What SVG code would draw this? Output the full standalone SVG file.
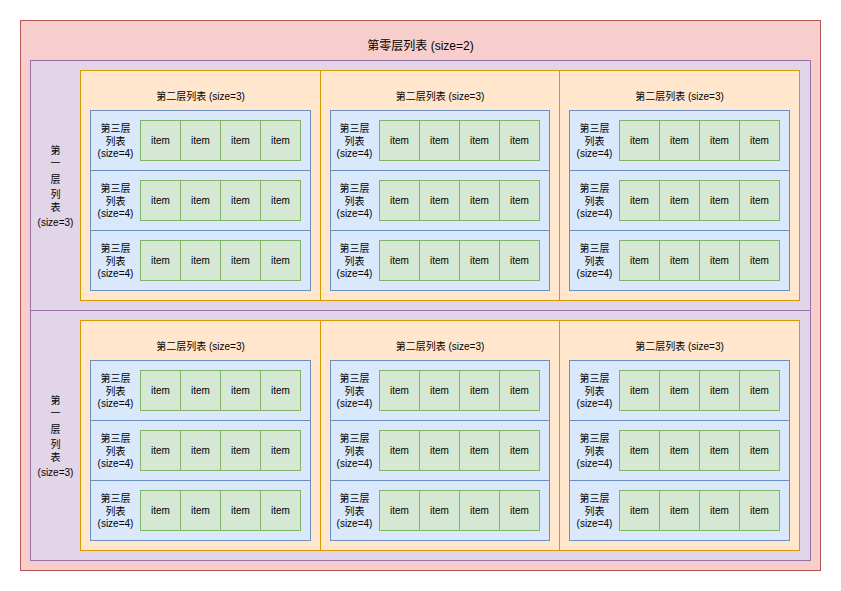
<svg xmlns="http://www.w3.org/2000/svg" width="841" height="591" viewBox="0 0 841 591">
<style>
text{font-family:"Liberation Sans","Noto Sans CJK SC",sans-serif;font-size:10px;fill:#000;text-anchor:middle}
.big{font-size:12px}
.l0{fill:#f8cecc;stroke:#b85450}
.l1{fill:#e1d5e7;stroke:#9673a6}
.l2{fill:#ffe6cc;stroke:#d79b00}
.l3{fill:#dae8fc;stroke:#6c8ebf}
.it{fill:#d5e8d4;stroke:#82b366}
</style>
<defs>
<g id="items">
<rect class="it" x="50" y="10" width="40" height="40"/><text x="70" y="33.5">item</text>
<rect class="it" x="90" y="10" width="40" height="40"/><text x="110" y="33.5">item</text>
<rect class="it" x="130" y="10" width="40" height="40"/><text x="150" y="33.5">item</text>
<rect class="it" x="170" y="10" width="40" height="40"/><text x="190" y="33.5">item</text>
</g>
<g id="l3body">
<rect class="l3" width="220" height="60"/>
<text><tspan x="25" y="21.5">第三层</tspan><tspan x="25" y="34.5">列表</tspan><tspan x="25" y="46.5">(size=4)</tspan></text>
</g>
<g id="items2">
<rect class="it" x="49" y="10" width="40" height="40"/><text x="69" y="33.5">item</text>
<rect class="it" x="89" y="10" width="40" height="40"/><text x="109" y="33.5">item</text>
<rect class="it" x="129" y="10" width="40" height="40"/><text x="149" y="33.5">item</text>
<rect class="it" x="169" y="10" width="40" height="40"/><text x="189" y="33.5">item</text>
</g>
<g id="l3body2">
<rect class="l3" width="219" height="60"/>
<text><tspan x="24" y="21.5">第三层</tspan><tspan x="24" y="34.5">列表</tspan><tspan x="24" y="46.5">(size=4)</tspan></text>
</g>
</defs>
<g transform="translate(0.5,0.5)">
<g id="level0">
<rect class="l0" x="20" y="20" width="800" height="550"/>
<text class="big" x="420" y="49">第零层列表 (size=2)</text>
</g>
<g id="level1-a">
<rect class="l1" x="30" y="60" width="780" height="250"/>
<text><tspan x="55" y="153.5">第</tspan><tspan x="55" y="166.5">一</tspan><tspan x="55" y="182.5">层</tspan><tspan x="55" y="197.5">列</tspan><tspan x="55" y="210.5">表</tspan><tspan x="55" y="225.5">(size=3)</tspan></text>
</g>
<g id="level1-b">
<rect class="l1" x="30" y="310" width="780" height="250"/>
<text><tspan x="55" y="403.5">第</tspan><tspan x="55" y="416.5">一</tspan><tspan x="55" y="432.5">层</tspan><tspan x="55" y="447.5">列</tspan><tspan x="55" y="460.5">表</tspan><tspan x="55" y="475.5">(size=3)</tspan></text>
</g>
<g id="level2-a1"><rect class="l2" x="80" y="70" width="240" height="230"/><text x="200" y="99.5">第二层列表 (size=3)</text></g>
<g id="level2-a2"><rect class="l2" x="320" y="70" width="239" height="230"/><text x="439.5" y="99.5">第二层列表 (size=3)</text></g>
<g id="level2-a3"><rect class="l2" x="559" y="70" width="240" height="230"/><text x="679" y="99.5">第二层列表 (size=3)</text></g>
<g id="level2-b1"><rect class="l2" x="80" y="320" width="240" height="230"/><text x="200" y="349.5">第二层列表 (size=3)</text></g>
<g id="level2-b2"><rect class="l2" x="320" y="320" width="239" height="230"/><text x="439.5" y="349.5">第二层列表 (size=3)</text></g>
<g id="level2-b3"><rect class="l2" x="559" y="320" width="240" height="230"/><text x="679" y="349.5">第二层列表 (size=3)</text></g>
<g id="level3-a1-1" transform="translate(90,110)"><use href="#l3body"/><use href="#items"/></g>
<g id="level3-a1-2" transform="translate(90,170)"><use href="#l3body"/><use href="#items"/></g>
<g id="level3-a1-3" transform="translate(90,230)"><use href="#l3body"/><use href="#items"/></g>
<g id="level3-a2-1" transform="translate(330,110)"><use href="#l3body2"/><use href="#items2"/></g>
<g id="level3-a2-2" transform="translate(330,170)"><use href="#l3body2"/><use href="#items2"/></g>
<g id="level3-a2-3" transform="translate(330,230)"><use href="#l3body2"/><use href="#items2"/></g>
<g id="level3-a3-1" transform="translate(569,110)"><use href="#l3body"/><use href="#items"/></g>
<g id="level3-a3-2" transform="translate(569,170)"><use href="#l3body"/><use href="#items"/></g>
<g id="level3-a3-3" transform="translate(569,230)"><use href="#l3body"/><use href="#items"/></g>
<g id="level3-b1-1" transform="translate(90,360)"><use href="#l3body"/><use href="#items"/></g>
<g id="level3-b1-2" transform="translate(90,420)"><use href="#l3body"/><use href="#items"/></g>
<g id="level3-b1-3" transform="translate(90,480)"><use href="#l3body"/><use href="#items"/></g>
<g id="level3-b2-1" transform="translate(330,360)"><use href="#l3body2"/><use href="#items2"/></g>
<g id="level3-b2-2" transform="translate(330,420)"><use href="#l3body2"/><use href="#items2"/></g>
<g id="level3-b2-3" transform="translate(330,480)"><use href="#l3body2"/><use href="#items2"/></g>
<g id="level3-b3-1" transform="translate(569,360)"><use href="#l3body"/><use href="#items"/></g>
<g id="level3-b3-2" transform="translate(569,420)"><use href="#l3body"/><use href="#items"/></g>
<g id="level3-b3-3" transform="translate(569,480)"><use href="#l3body"/><use href="#items"/></g>
<g id="connectors"></g>
</g>
</svg>
